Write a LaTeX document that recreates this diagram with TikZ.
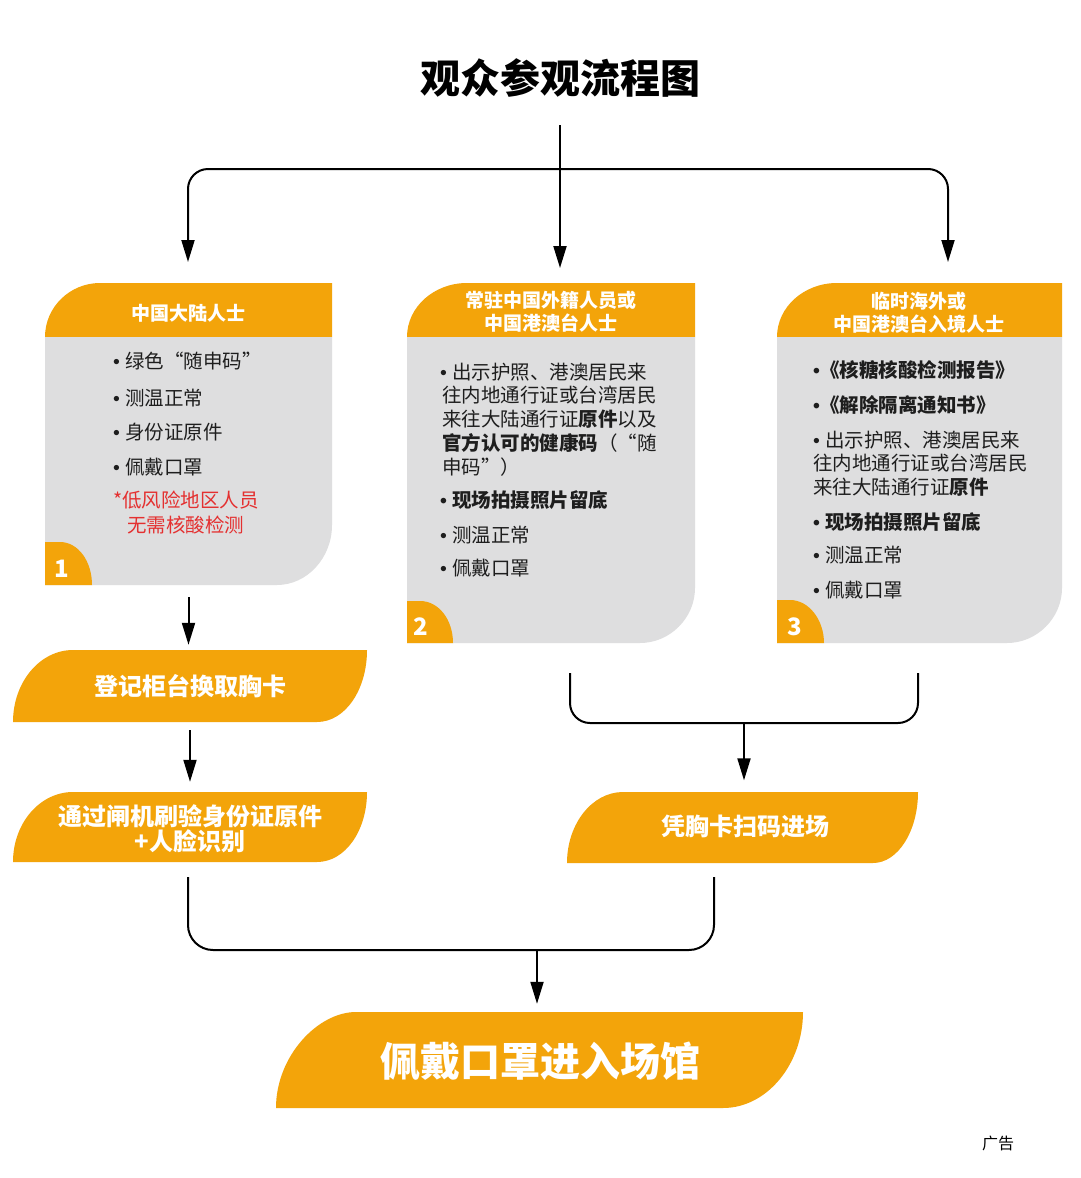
\documentclass[tikz,border=0pt]{standalone}
\usepackage{fontspec}
\setmainfont{Noto Sans CJK SC}
\newfontfamily\bulfont{Liberation Sans}
\newcommand{\bt}{{\bulfont •}\hspace{5pt}}
\usetikzlibrary{arrows.meta}
\definecolor{org}{RGB}{243,164,10}
\definecolor{gry}{RGB}{222,222,223}
\definecolor{redt}{RGB}{228,48,48}
\definecolor{txt}{RGB}{30,30,30}
\tikzset{
  ln/.style={line width=2pt, draw=black},
  arr/.style={ln, -{Triangle[length=22pt,width=13pt]}},
  tx/.style={anchor=west, inner sep=0pt, text=txt, font=\fontsize{19.5}{24}\selectfont},
  rtx/.style={tx, text=redt},
  hd/.style={inner sep=0pt, text=white, font=\fontsize{19}{23}\selectfont\bfseries, align=center},
  lbl/.style={inner sep=0pt, text=white, font=\fontsize{24}{25}\selectfont\bfseries, align=center},
  num/.style={inner sep=0pt, text=white, font=\fontsize{24}{24}\selectfont\bfseries},
  holder/.style={inner sep=0pt, draw=none}
}
\begin{document}
\begin{tikzpicture}[x=1pt,y=-1pt]
\useasboundingbox (0,0) rectangle (1080,1178);
\fill[white] (0,0) rectangle (1080,1178);

% title
\node[inner sep=0pt, font=\fontsize{40}{40}\selectfont\bfseries] (title) at (560,78) {观众参观流程图};

% ---------- box 1 ----------
\fill[org] (45,337) .. controls (45,307) and (70,283) .. (100,283) -- (332,283) -- (332,337) -- cycle;
\fill[gry] (45,337) -- (332,337) -- (332,525) .. controls (332,558) and (307,585) .. (277,585) -- (45,585) -- cycle;
\fill[org] (45,585) -- (45,542) -- (60,542) .. controls (78,542) and (92,561) .. (92,585) -- cycle;
\node[holder, minimum width=287pt, minimum height=302pt] (b1) at (188.5,434) {};
\node[hd] (h1) at (188,313) {中国大陆人士};
\node[tx] (t1a) at (113,361) {\bt 绿色“随申码”};
\node[tx] (t1b) at (113,398) {\bt 测温正常};
\node[tx] (t1c) at (113,432) {\bt 身份证原件};
\node[tx] (t1d) at (113,467) {\bt 佩戴口罩};
\node[rtx] (t1e) at (113,500) {*低风险地区人员};
\node[rtx] (t1f) at (127,525) {无需核酸检测};
\node[num] (n1) at (62,569) {1};

% ---------- box 2 ----------
\fill[org] (407,337) .. controls (407,307) and (434,283) .. (467,283) -- (695,283) -- (695,337) -- cycle;
\fill[gry] (407,337) -- (695,337) -- (695,588) .. controls (695,618) and (670,643) .. (640,643) -- (407,643) -- cycle;
\fill[org] (407,643) -- (407,601) -- (420,601) .. controls (439,601) and (453,620) .. (453,643) -- cycle;
\node[holder, minimum width=288pt, minimum height=360pt] (b2) at (551,463) {};
\node[hd] (h2) at (551,312) {常驻中国外籍人员或\\中国港澳台人士};
\node[tx] (t2a) at (440,372) {\bt 出示护照、港澳居民来};
\node[tx] (t2b) at (442,395) {往内地通行证或台湾居民};
\node[tx] (t2c) at (442,419) {来往大陆通行证\textbf{原件}以及};
\node[tx] (t2d) at (442,443) {\textbf{官方认可的健康码}（“随};
\node[tx] (t2e) at (442,467) {申码”）};
\node[tx] (t2f) at (440,500) {\textbf{\bt 现场拍摄照片留底}};
\node[tx] (t2g) at (440,535) {\bt 测温正常};
\node[tx] (t2h) at (440,568) {\bt 佩戴口罩};
\node[num] (n2) at (421,627) {2};

% ---------- box 3 ----------
\fill[org] (777,337) .. controls (777,307) and (804,283) .. (837,283) -- (1062,283) -- (1062,337) -- cycle;
\fill[gry] (777,337) -- (1062,337) -- (1062,588) .. controls (1062,618) and (1037,643) .. (1007,643) -- (777,643) -- cycle;
\fill[org] (777,643) -- (777,600) -- (790,600) .. controls (809,600) and (824,620) .. (824,643) -- cycle;
\node[holder, minimum width=285pt, minimum height=360pt] (b3) at (919.5,463) {};
\node[hd] (h3) at (919,313) {临时海外或\\中国港澳台入境人士};
\node[tx] (t3a) at (813,370) {\textbf{{\bulfont •}《核糖核酸检测报告》}};
\node[tx] (t3b) at (813,405) {\textbf{{\bulfont •}《解除隔离通知书》}};
\node[tx] (t3c) at (813,440) {\bt 出示护照、港澳居民来};
\node[tx] (t3d) at (813,463) {往内地通行证或台湾居民};
\node[tx] (t3e) at (813,487) {来往大陆通行证\textbf{原件}};
\node[tx] (t3f) at (813,522) {\textbf{\bt 现场拍摄照片留底}};
\node[tx] (t3g) at (813,555) {\bt 测温正常};
\node[tx] (t3h) at (813,590) {\bt 佩戴口罩};
\node[num] (n3) at (795,627) {3};

% ---------- step shapes ----------
\fill[org] (13,722) .. controls (13,682) and (40,650) .. (73,650) -- (367,650) .. controls (367,690) and (345,722) .. (317,722) -- cycle;
\node[lbl, minimum width=354pt, minimum height=72pt] (s1) at (190,686) {登记柜台换取胸卡};

\fill[org] (13,862) .. controls (13,823) and (40,792) .. (73,792) -- (367,792) .. controls (367,831) and (345,862) .. (317,862) -- cycle;
\node[lbl, minimum width=354pt, minimum height=70pt] (s2) at (190,829) {通过闸机刷验身份证原件\\+人脸识别};

\fill[org] (567,863) .. controls (567,824) and (592,792) .. (623,792) -- (918,792) .. controls (918,831) and (898,863) .. (873,863) -- cycle;
\node[lbl, minimum width=351pt, minimum height=71pt] (s3) at (745,826) {凭胸卡扫码进场};

\fill[org] (276,1108) .. controls (276,1056) and (318,1012) .. (356,1012) -- (803,1012) .. controls (803,1064) and (767,1108) .. (723,1108) -- cycle;
\node[inner sep=0pt, text=white, font=\fontsize{40}{40}\selectfont\bfseries, minimum width=527pt, minimum height=96pt] (fin) at (540,1061) {佩戴口罩进入场馆};

% ---------- connectors ----------
\coordinate (topstart) at (560,125);
\coordinate (split) at (560,169);
\coordinate (d1) at (188,262);
\coordinate (d2) at (560,268);
\coordinate (d3) at (948,262);
\draw[arr] (topstart) -- (d2);
\draw[arr, rounded corners=20pt] (split) -| (d1);
\draw[arr, rounded corners=20pt] (split) -| (d3);

\draw[arr, shorten <=12pt, shorten >=5pt] (b1.south) -- (b1.south |- s1.north);
\draw[arr, shorten <=8pt, shorten >=12pt] (s1.south) -- (s1.south |- s2.north);

\coordinate (m2) at (570,673);
\coordinate (m3) at (918,673);
\coordinate (j23) at (744,723);
\draw[ln, rounded corners=20pt] (m2) |- (j23) -| (m3);
\draw[arr, shorten >=10pt] (j23) -- (j23 |- s3.north);

\coordinate (m1) at (188,877);
\coordinate (m4) at (714,877);
\coordinate (jf) at (537,950);
\draw[ln, rounded corners=25pt] (m1) |- (jf) -| (m4);
\draw[arr, shorten >=9pt] (jf) -- (jf |- fin.north);

\node[inner sep=0pt, font=\fontsize{16}{16}\selectfont] (ad) at (998,1143) {广告};
\end{tikzpicture}
\end{document}
